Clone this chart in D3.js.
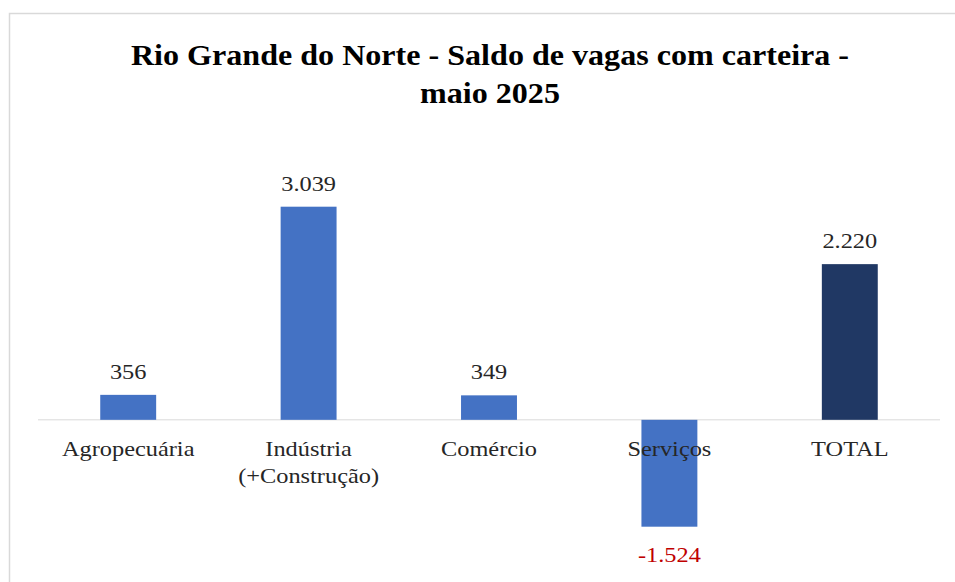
<!DOCTYPE html>
<html><head><meta charset="utf-8">
<script src="https://cdn.jsdelivr.net/npm/d3@7"></script>
<style>body{margin:0;background:#fff}svg{display:block}</style>
</head><body><svg id="c" width="955" height="582"></svg>
<script>
const categories = [["Agropecuária"], ["Indústria", "(+Construção)"], ["Comércio"], ["Serviços"], ["TOTAL"]];
const values = [356, 3039, 349, -1524, 2220];
const labels = ["356", "3.039", "349", "-1.524", "2.220"];
const titleLines = ["Rio Grande do Norte - Saldo de vagas com carteira -", "maio 2025"];

const svg = d3.select("#c");
const font = "'Liberation Serif', 'Times New Roman', serif";
const sx = 1.16;

svg.append("rect").attr("x", 9.5).attr("y", 13.5).attr("width", 1000).attr("height", 1000)
  .attr("fill", "#fff").attr("stroke", "#d9d9d9").attr("stroke-width", 1.5);

const ids = d3.range(values.length);
const x = d3.scaleBand().domain(ids).range([38, 940]).paddingInner(0.69).paddingOuter(0.345);
const y = d3.scaleLinear().domain([-1524, 3039]).range([526.7, 206.7]);

svg.append("line").attr("x1", 38).attr("x2", 940).attr("y1", y(0)).attr("y2", y(0))
  .attr("stroke", "#d9d9d9").attr("stroke-width", 1);

svg.selectAll("rect.bar").data(ids).enter().append("rect").attr("class", "bar")
  .attr("x", i => x(i)).attr("width", x.bandwidth())
  .attr("y", i => y(Math.max(0, values[i])))
  .attr("height", i => Math.abs(y(values[i]) - y(0)))
  .attr("fill", i => i === values.length - 1 ? "#203864" : "#4472C4");

svg.selectAll("text.val").data(ids).enter().append("text").attr("class", "val")
  .attr("transform", i => `translate(${x(i) + x.bandwidth() / 2},${values[i] >= 0 ? y(values[i]) - 16 : y(values[i]) + 35}) scale(${sx},1)`)
  .attr("text-anchor", "middle").attr("font-family", font).attr("font-size", 21)
  .attr("fill", i => values[i] < 0 ? "#C00000" : "#262626")
  .text(i => labels[i]);

const cat = svg.selectAll("text.cat").data(ids).enter().append("text").attr("class", "cat")
  .attr("transform", i => `translate(${x(i) + x.bandwidth() / 2},456) scale(${sx},1)`)
  .attr("text-anchor", "middle").attr("font-family", font).attr("font-size", 21).attr("fill", "#262626");
cat.each(function(i) {
  const t = d3.select(this);
  categories[i].forEach((s, k) => {
    t.append("tspan").attr("x", 0).attr("y", k * 27).text(s);
  });
});

svg.selectAll("text.title").data(titleLines).enter().append("text").attr("class", "title")
  .attr("transform", (d, k) => `translate(490,${65 + k * 38}) scale(1.07,1)`)
  .attr("text-anchor", "middle").attr("font-family", font).attr("font-weight", "bold")
  .attr("font-size", 30).attr("fill", "#000").text(d => d);
</script></body></html>
